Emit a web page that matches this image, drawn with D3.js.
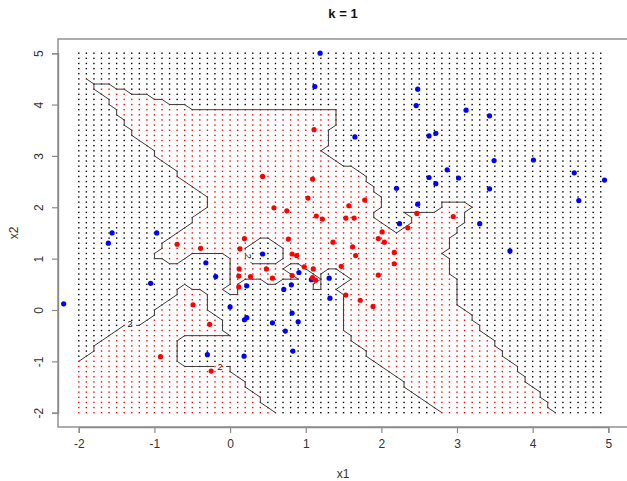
<!DOCTYPE html>
<html>
<head>
<meta charset="utf-8">
<script src="https://cdn.jsdelivr.net/npm/d3@7"></script>
<style>
  html, body { margin: 0; padding: 0; background: #fff; }
  svg { display: block; }
</style>
</head>
<body>
<svg id="chart" width="627" height="481"></svg>
<script>
// ---- data ----
const titleText = "k = 1";
const xLabel = "x1";
const yLabel = "x2";
const xTicks = [-2, -1, 0, 1, 2, 3, 4, 5];
const yTicks = [-2, -1, 0, 1, 2, 3, 4, 5];

// grid of prediction points: seq(-2, 4.9, 0.1) x seq(-2, 5, 0.1)
const gridXIdx = d3.range(-20, 50);   // /10
const gridYIdx = d3.range(-20, 51);   // /10

const blueX = [1.19, 1.12, 2.48, 2.46, 1.65, 2.63, 2.72, 3.12, 3.43, 3.49, 4.01, 2.87, 2.63, 2.72, 3.02, 4.55, 4.95, 3.43, 4.61, 2.20, 2.48, 2.24, 3.30, 3.70, -1.56, -0.97, -1.61, 0.43, -0.32, -0.19, 0.91, 1.075, 1.31, -1.05, 0.22, 0.71, 0.81, 1.32, -2.20, 0.00, 0.82, 0.19, 0.22, 0.56, 0.90, 0.73, 0.83, -0.30, 0.185];
const blueY = [5.00, 4.35, 4.30, 3.98, 3.37, 3.39, 3.44, 3.89, 3.78, 2.91, 2.92, 2.73, 2.58, 2.46, 2.57, 2.67, 2.53, 2.36, 2.13, 2.37, 2.06, 1.68, 1.68, 1.15, 1.50, 1.50, 1.30, 1.09, 0.92, 0.65, 0.73, 0.59, 0.62, 0.52, 0.47, 0.40, 0.49, 0.23, 0.12, 0.06, -0.06, -0.19, -0.15, -0.25, -0.23, -0.41, -0.80, -0.87, -0.90];

const redX = [1.11, 0.43, 1.09, 1.03, 0.58, 0.75, 1.57, 1.78, 1.14, 1.22, 1.53, 1.64, 2.95, 2.47, 2.35, 2.01, 1.96, 0.19, 0.77, 1.36, 2.04, 1.62, -0.70, -0.39, 0.13, 0.82, 0.88, 1.66, 2.17, 2.17, 1.47, 0.12, 0.48, 0.98, 1.10, 1.96, 0.115, 0.27, 0.56, 0.82, 1.09, 1.13, 0.115, 1.53, 1.72, 1.89, -0.49, -0.27, -0.92, -0.25];
const redY = [3.51, 2.60, 2.55, 2.18, 1.99, 1.93, 2.03, 2.14, 1.83, 1.77, 1.79, 1.79, 1.82, 1.88, 1.60, 1.52, 1.39, 1.39, 1.38, 1.32, 1.32, 1.23, 1.28, 1.20, 1.19, 1.09, 1.06, 1.06, 1.12, 0.90, 0.85, 0.80, 0.80, 0.84, 0.80, 0.68, 0.66, 0.65, 0.62, 0.67, 0.63, 0.58, 0.45, 0.29, 0.19, 0.07, 0.10, -0.28, -0.91, -1.19];

// contour label positions (data units) and rotation
const labelText = "2";
const labelX = [-1.322, -0.132, 0.238];
const labelY = [-0.278, -1.104, 1.046];
const labelRot = [0, 0, 90];

// ---- drawing ----
const svg = d3.select("#chart");
const font = "'Liberation Sans', Arial, Helvetica, sans-serif";

const x = d3.scaleLinear().domain([-2, 5]).range([78.8, 608.3]);
const y = d3.scaleLinear().domain([-2, 5]).range([412.7, 53.2]);

const box = {left: 58, top: 39, bottom: 427, right: 634};

// training set
const train = blueX.map((v, i) => ({x: v, y: blueY[i], c: 0}))
  .concat(redX.map((v, i) => ({x: v, y: redY[i], c: 1})));

// 1-nearest-neighbour classification of grid
const nx = gridXIdx.length, ny = gridYIdx.length;
const cls = [];
gridXIdx.forEach((ix, i) => {
  cls[i] = [];
  gridYIdx.forEach((iy, j) => {
    const gx = ix / 10, gy = iy / 10;
    let best = Infinity, bc = 0;
    train.forEach(p => {
      const d = (p.x - gx) ** 2 + (p.y - gy) ** 2;
      if (d < best) { best = d; bc = p.c; }
    });
    cls[i][j] = bc;
  });
});

// grid dots
const dots = [];
for (let i = 0; i < nx; i++) for (let j = 0; j < ny; j++)
  dots.push({gx: gridXIdx[i] / 10, gy: gridYIdx[j] / 10, c: cls[i][j]});

svg.append("g").selectAll("rect").data(dots).join("rect")
  .attr("x", d => x(d.gx) - 0.7)
  .attr("y", d => y(d.gy) - 0.7)
  .attr("width", 1.4).attr("height", 1.4)
  .attr("fill", d => d.c ? "#ff0000" : "#000");

// contour at the level of the red class: line runs through the outermost red grid points
const gxv = i => gridXIdx[0] / 10 + i * 0.1;
const gyv = j => gridYIdx[0] / 10 + j * 0.1;
let pathD = "";
const seen = new Set();
for (let i = 0; i < nx - 1; i++) {
  for (let j = 0; j < ny - 1; j++) {
    const c = {p00: [i, j], p10: [i + 1, j], p11: [i + 1, j + 1], p01: [i, j + 1]};
    const v = {p00: cls[i][j], p10: cls[i + 1][j], p11: cls[i + 1][j + 1], p01: cls[i][j + 1]};
    const edges = {b: ["p00", "p10"], r: ["p10", "p11"], t: ["p01", "p11"], l: ["p00", "p01"]};
    const E = {};
    for (const key in edges) {
      const [a, b] = edges[key];
      if (v[a] !== v[b]) E[key] = v[a] === 1 ? c[a] : c[b];
    }
    const k = Object.keys(E);
    let pairs = [];
    if (k.length === 2) pairs = [[E[k[0]], E[k[1]]]];
    else if (k.length === 4) pairs = [[E.b, E.r], [E.t, E.l], [E.b, E.l], [E.t, E.r]];
    pairs.forEach(([a, b]) => {
      if (a[0] === b[0] && a[1] === b[1]) return;
      const key = [a, b].map(p => p.join(",")).sort().join("|");
      if (seen.has(key)) return;
      seen.add(key);
      pathD += `M${x(gxv(a[0])).toFixed(2)},${y(gyv(a[1])).toFixed(2)}L${x(gxv(b[0])).toFixed(2)},${y(gyv(b[1])).toFixed(2)}`;
    });
  }
}

// mask: gaps in the contour line where labels sit
const defs = svg.append("defs");
const mask = defs.append("mask").attr("id", "labelGap").attr("maskUnits", "userSpaceOnUse")
  .attr("x", 0).attr("y", 0).attr("width", 627).attr("height", 481);
mask.append("rect").attr("x", 0).attr("y", 0).attr("width", 627).attr("height", 481).attr("fill", "#fff");
mask.selectAll("rect.gap").data(labelX).join("rect").attr("class", "gap")
  .attr("transform", (d, i) => `translate(${x(d)},${y(labelY[i])}) rotate(${labelRot[i]})`)
  .attr("x", -6).attr("y", -5).attr("width", 12).attr("height", 10).attr("fill", "#000");

svg.append("path").attr("d", pathD).attr("mask", "url(#labelGap)")
  .attr("fill", "none").attr("stroke", "#3a3a3a").attr("stroke-width", 1)
  .attr("stroke-linecap", "round");

// contour labels
svg.append("g").selectAll("text").data(labelX).join("text")
  .attr("transform", (d, i) => `translate(${x(d)},${y(labelY[i])}) rotate(${labelRot[i]})`)
  .attr("text-anchor", "middle").attr("dy", "0.35em")
  .attr("font-family", font).attr("font-size", 9).attr("fill", "#111")
  .text(labelText);

// training points
svg.append("g").selectAll("circle").data(train).join("circle")
  .attr("cx", d => x(d.x)).attr("cy", d => y(d.y)).attr("r", 2.6)
  .attr("fill", d => d.c ? "#ff0000" : "#0000ff");

// box
svg.append("rect")
  .attr("x", box.left).attr("y", box.top)
  .attr("width", box.right - box.left).attr("height", box.bottom - box.top)
  .attr("fill", "none").attr("stroke", "#8a8a8a").attr("stroke-width", 1.4);

// axes
const xAxis = d3.axisBottom(x).tickValues(xTicks).tickSize(6).tickPadding(6).tickFormat(d3.format("d"));
const gx = svg.append("g").attr("transform", `translate(0,${box.bottom})`).call(xAxis);
gx.select(".domain").attr("stroke", "#8a8a8a").attr("stroke-width", 1.4);
gx.selectAll(".tick line").attr("stroke", "#8a8a8a").attr("stroke-width", 1.2);
gx.selectAll(".tick text").attr("font-family", font).attr("font-size", 12).attr("fill", "#333")
  .text(d => d < 0 ? "-" + Math.abs(d) : d);

const yAxis = d3.axisLeft(y).tickValues(yTicks).tickSize(6).tickPadding(6).tickFormat(d3.format("d"));
const gy = svg.append("g").attr("transform", `translate(${box.left},0)`).call(yAxis);
gy.select(".domain").attr("stroke", "#8a8a8a").attr("stroke-width", 1.4);
gy.selectAll(".tick line").attr("stroke", "#8a8a8a").attr("stroke-width", 1.2);
gy.selectAll(".tick text")
  .attr("font-family", font).attr("font-size", 12).attr("fill", "#333")
  .attr("x", null).attr("dy", null)
  .attr("text-anchor", "middle")
  .attr("transform", "translate(-15,0) rotate(-90)")
  .text(d => d < 0 ? "-" + Math.abs(d) : d);

// title and axis labels
svg.append("text").attr("x", 343).attr("y", 17.5).attr("text-anchor", "middle")
  .attr("font-family", font).attr("font-weight", "bold").attr("font-size", 13).attr("fill", "#111")
  .text(titleText);
svg.append("text").attr("x", 343).attr("y", 478).attr("text-anchor", "middle")
  .attr("font-family", font).attr("font-size", 12).attr("fill", "#333")
  .text(xLabel);
svg.append("text").attr("transform", "translate(18,233) rotate(-90)").attr("text-anchor", "middle")
  .attr("font-family", font).attr("font-size", 12).attr("fill", "#333")
  .text(yLabel);
</script>
</body>
</html>
